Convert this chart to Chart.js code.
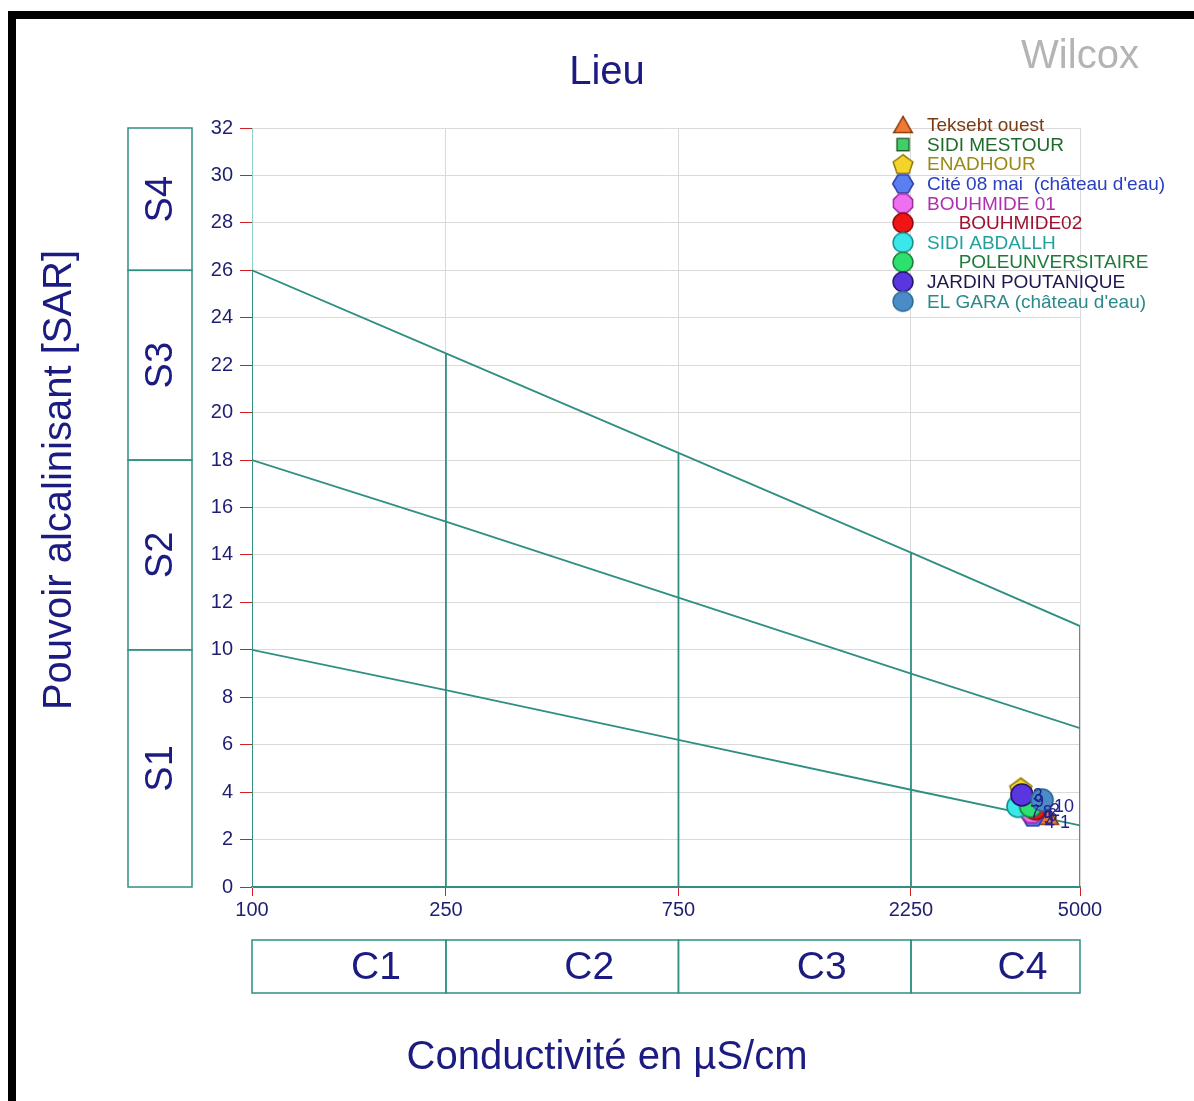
<!DOCTYPE html>
<html>
<head>
<meta charset="utf-8">
<script src="https://cdn.jsdelivr.net/npm/chart.js@4.4.0/dist/chart.umd.min.js"></script>
<style>
html,body{margin:0;padding:0;background:#fff;}
canvas{display:block;}
</style>
</head>
<body>
<canvas id="c" width="1194" height="1101"></canvas>
<script>
// ---- data ----
const stationNames = ['Teksebt ouest','SIDI MESTOUR','ENADHOUR','Cité 08 mai  (château d\'eau)','BOUHMIDE 01','      BOUHMIDE02','SIDI ABDALLH','      POLEUNVERSITAIRE','JARDIN POUTANIQUE','EL GARA (château d\'eau)'];
const pointLabels = ['1','2','3','4','5','6','7','8','9','10'];
const conductivity = [4300, 4100, 3780, 4000, 3980, 4050, 3730, 3960, 3800, 4180];
const sar = [3.0, 3.5, 4.15, 3.0, 3.15, 3.3, 3.4, 3.4, 3.88, 3.67];
const markerShapes = ['triangle','square','pentagon','hexagon','octagon','circle','circle','circle','circle','circle'];
const markerFills = ['#f07a35','#3fcf6a','#f4d42a','#5a7ff0','#f06ef0','#f01414','#3ae8ea','#2ee06e','#5a36e0','#4a8cc8'];
const markerStrokes = ['#8a3a08','#1d5e22','#8c7a08','#2a3aa8','#9a2c9a','#8a0a0a','#16908f','#188038','#24146e','#2f6a96'];
const legendTextColors = ['#7a3a12','#1e6a2a','#9a8a14','#2a40c0','#b02eb0','#a01030','#22a0a0','#1d7a3a','#201650','#2a8a8a'];

const xTickValues = [100, 250, 750, 2250, 5000];
const lineS1 = [10, 8.3, 6.2, 4.1, 2.6];
const lineS2 = [18, 15.4, 12.2, 9.0, 6.7];
const lineS3 = [26, 22.5, 18.3, 14.1, 11.0];
const sClassNames = ['S1','S2','S3','S4'];
const sClassBounds = [0, 10, 18, 26, 32];
const cClassNames = ['C1','C2','C3','C4'];

// ---- styles ----
const TEAL = '#2f8f83';
const NAVY = '#1b1b82';
const FONT = '"Liberation Sans", Arial, sans-serif';

function makeMarker(shape, fill, stroke) {
  const size = 22, pad = 3;
  const c = document.createElement('canvas');
  c.width = c.height = size + pad * 2;
  const g = c.getContext('2d');
  const cx = c.width / 2;
  let r = size / 2;
  g.beginPath();
  if (shape === 'circle') {
    g.arc(cx, cx, r, 0, Math.PI * 2);
  } else {
    let n, rot, cy = cx;
    if (shape === 'triangle') { n = 3; rot = -Math.PI / 2; r = 12; cy = cx + 2.5; }
    else if (shape === 'square') { n = 4; rot = Math.PI / 4; r = 9.5; }
    else if (shape === 'pentagon') { n = 5; rot = -Math.PI / 2; r = 11.5; cy = cx + 1; }
    else if (shape === 'hexagon') { n = 6; rot = 0; r = 11.5; }
    else { n = 8; rot = Math.PI / 8; r = 11.5; }
    for (let k = 0; k < n; k++) {
      const a = rot + k * 2 * Math.PI / n;
      const px = cx + r * Math.cos(a), py = cy + r * Math.sin(a);
      if (k === 0) g.moveTo(px, py); else g.lineTo(px, py);
    }
  }
  g.closePath();
  g.fillStyle = fill; g.fill();
  g.lineWidth = 1.6; g.strokeStyle = stroke; g.stroke();
  return c;
}
const markers = markerShapes.map((s, i) => makeMarker(s, markerFills[i], markerStrokes[i]));

// ---- datasets ----
const datasets = [];
function lineDs(points, width, color) {
  return { type: 'scatter', data: points, showLine: true, borderColor: color || TEAL, borderWidth: width || 1.8,
           pointRadius: 0, fill: false, order: 100, isBoundary: true };
}
datasets.push(lineDs(xTickValues.map((x, i) => ({ x, y: lineS1[i] }))));
datasets.push(lineDs(xTickValues.map((x, i) => ({ x, y: lineS2[i] }))));
datasets.push(lineDs(xTickValues.map((x, i) => ({ x, y: lineS3[i] }))));
// vertical class limits
xTickValues.forEach((x, i) => {
  datasets.push(lineDs([{ x, y: 0 }, { x, y: lineS3[i] }], i === 0 ? 2 : 1.8));
});
// stations
stationNames.forEach((name, i) => {
  datasets.push({
    type: 'scatter', label: name,
    data: [{ x: conductivity[i], y: sar[i] }],
    pointStyle: markers[i], pointRadius: 11, pointHoverRadius: 11,
    backgroundColor: markerFills[i], borderColor: markerStrokes[i],
    order: 10 - i, stationIndex: i
  });
});

const decoPlugin = {
  id: 'deco',
  beforeDraw(chart) {
    const ctx = chart.ctx;
    ctx.save();
    ctx.fillStyle = '#ffffff';
    ctx.fillRect(0, 0, chart.width, chart.height);
    ctx.restore();
  },
  afterDraw(chart) {
    const ctx = chart.ctx;
    const xs = chart.scales.x, ys = chart.scales.y;
    ctx.save();

    // S class boxes
    ctx.strokeStyle = TEAL; ctx.lineWidth = 1.5;
    for (let i = 0; i < sClassNames.length; i++) {
      const top = ys.getPixelForValue(sClassBounds[i + 1]);
      const bot = ys.getPixelForValue(sClassBounds[i]);
      ctx.strokeRect(128, top, 64, bot - top);
      ctx.save();
      ctx.translate(160, (top + bot) / 2);
      ctx.rotate(-Math.PI / 2);
      ctx.fillStyle = NAVY; ctx.font = '38px ' + FONT;
      ctx.textAlign = 'center'; ctx.textBaseline = 'middle';
      ctx.fillText(sClassNames[i], 0, 2);
      ctx.restore();
    }
    // C class boxes
    for (let i = 0; i < cClassNames.length; i++) {
      const l = xs.getPixelForValue(xTickValues[i]);
      const r = xs.getPixelForValue(xTickValues[i + 1]);
      ctx.strokeStyle = TEAL; ctx.lineWidth = 1.5;
      ctx.strokeRect(l, 940, r - l, 53);
      ctx.fillStyle = NAVY; ctx.font = '39px ' + FONT;
      ctx.textAlign = 'center'; ctx.textBaseline = 'middle';
      ctx.fillText(cClassNames[i], (l + r) / 2 + 27, 968);
    }

    // titles
    ctx.fillStyle = NAVY; ctx.font = '40px ' + FONT;
    ctx.textAlign = 'center'; ctx.textBaseline = 'middle';
    ctx.fillText('Lieu', 607, 73);
    ctx.fillText('Conductivité en µS/cm', 607, 1058);
    ctx.save();
    ctx.translate(60, 480);
    ctx.rotate(-Math.PI / 2);
    ctx.fillText('Pouvoir alcalinisant [SAR]', 0, 0);
    ctx.restore();
    ctx.fillStyle = '#b4b4b4'; ctx.font = '40px ' + FONT;
    ctx.fillText('Wilcox', 1080, 57);

    // point number labels
    ctx.font = '18px ' + FONT; ctx.fillStyle = '#22228a';
    ctx.textAlign = 'left'; ctx.textBaseline = 'middle';
    chart.data.datasets.forEach((ds, di) => {
      if (ds.stationIndex === undefined) return;
      const el = chart.getDatasetMeta(di).data[0];
      ctx.fillText(pointLabels[ds.stationIndex], el.x + 12, el.y + 7);
    });

    // legend
    ctx.font = '19px ' + FONT; ctx.textBaseline = 'middle'; ctx.textAlign = 'left';
    stationNames.forEach((name, i) => {
      const yRow = 125 + i * 19.6;
      const m = markers[i];
      const s = 0.9;
      ctx.drawImage(m, 903 - m.width * s / 2, yRow - m.height * s / 2, m.width * s, m.height * s);
      ctx.fillStyle = legendTextColors[i];
      ctx.fillText(name, 927, yRow + 1);
    });

    // frame
    ctx.fillStyle = '#000';
    ctx.fillRect(8, 11, chart.width - 8, 8);
    ctx.fillRect(8, 11, 8, chart.height - 11);
    ctx.restore();
  }
};

new Chart(document.getElementById('c'), {
  type: 'scatter',
  data: { datasets },
  options: {
    responsive: false,
    animation: false,
    events: [],
    layout: { padding: { left: 0, right: 114, top: 128, bottom: 0 } },
    plugins: { legend: { display: false }, tooltip: { enabled: false }, title: { display: false } },
    scales: {
      x: {
        type: 'logarithmic', min: 100, max: 5000,
        afterBuildTicks: (s) => { s.ticks = xTickValues.map(v => ({ value: v })); },
        afterFit: (s) => { s.height = 214; },
        ticks: { color: '#1e1e72', font: { size: 20, family: FONT }, padding: 2, maxRotation: 0,
                 callback: (v) => String(v) },
        grid: { color: '#dadada', lineWidth: 1, tickColor: '#d42020', tickLength: 9 },
        border: { color: TEAL, width: 2 }
      },
      y: {
        type: 'linear', min: 0, max: 32,
        afterFit: (s) => { s.width = 252; },
        ticks: { stepSize: 2, color: '#1e1e72', font: { size: 20, family: FONT }, padding: 7 },
        grid: { color: '#dadada', lineWidth: 1, tickColor: '#d42020', tickLength: 12 },
        border: { color: '#8fd0c6', width: 1 }
      }
    }
  },
  plugins: [decoPlugin]
});
</script>
</body>
</html>
